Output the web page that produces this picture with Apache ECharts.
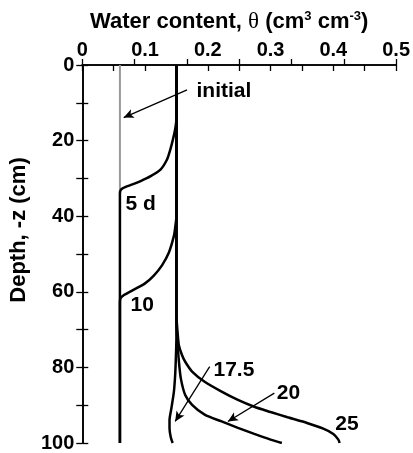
<!DOCTYPE html>
<html>
<head>
<meta charset="utf-8">
<script src="https://cdn.jsdelivr.net/npm/echarts@6/dist/echarts.min.js"></script>
<style>
html,body{margin:0;padding:0;background:#fff;}
#chart{width:413px;height:453px;}
</style>
</head>
<body>
<div id="chart"></div>
<script>
// Water content (cm3/cm3) vs depth (cm) profiles: [theta, depth]
const initialProfile = [[0.06, 0], [0.06, 100]];
const day5 = [[0.15,0],[0.15,14],[0.148,17],[0.144,20],[0.14,22.5],[0.135,25],[0.125,27.6],[0.109,29.4],[0.093,30.7],[0.08,31.6],[0.07,32.2],[0.062,32.9],[0.06,34],[0.06,100]];
const day10 = [[0.15,0],[0.15,40],[0.148,43],[0.146,45.2],[0.138,49.6],[0.127,53],[0.114,55.7],[0.099,57.9],[0.08,59.6],[0.067,60.8],[0.061,61.7],[0.06,63],[0.06,100]];
const day17_5 = [[0.15,0],[0.15,72],[0.149,78],[0.148,82],[0.146,86.4],[0.142,90.8],[0.139,94],[0.139,96],[0.141,98.5],[0.144,100]];
const day20 = [[0.15,0],[0.15,68],[0.152,74],[0.154,78.5],[0.157,82.9],[0.164,87.3],[0.175,89.9],[0.195,92.5],[0.222,94.3],[0.248,96],[0.274,97.6],[0.30,99.1],[0.318,100]];
const day25 = [[0.15,0],[0.15,66],[0.152,71],[0.154,74.2],[0.159,76.8],[0.164,78.5],[0.175,81.1],[0.195,83.8],[0.222,86.4],[0.248,88.6],[0.274,90.4],[0.30,91.8],[0.327,93.2],[0.358,94.7],[0.384,96.2],[0.40,97.6],[0.408,99.1],[0.41,100]];

// Annotation labels: [theta, depth, text]
const labelTexts = [[0.182, 7.0, 'initial'], [0.069, 36.8, '5 d'], [0.077, 63.6, '10'], [0.209, 80.7, '17.5'], [0.31, 86.8, '20'], [0.403, 94.9, '25']];
// Arrows: [fromTheta, fromDepth, toTheta, toDepth]
const arrows = [[0.167, 6.6, 0.066, 13.9], [0.203, 79.8, 0.148, 94.3], [0.306, 86.8, 0.232, 94.3]];

const xTicks = { min: 0, max: 0.5, interval: 0.1 };
const yTicks = { min: 0, max: 100, interval: 20 };

const FONT = '"Liberation Sans", Arial, sans-serif';
const chart = echarts.init(document.getElementById('chart'), null, { renderer: 'canvas' });

function profile(data, color, w) {
  return {
    type: 'line', data: data, xAxisIndex: 0, yAxisIndex: 0,
    showSymbol: false, smooth: 0.25, silent: true,
    lineStyle: { color: color, width: w }
  };
}

const axisLineStyle = { color: '#000', width: 1.6 };
const tickStyle = { color: '#000', width: 1.3 };

const option = {
  animation: false,
  backgroundColor: '#fff',
  grid: { left: 79, top: 65, right: 16, bottom: 8, containLabel: false },
  xAxis: [{
    type: 'value', position: 'top', min: xTicks.min, max: xTicks.max, interval: xTicks.interval,
    name: '{b|Water content, }{th|θ}{b| (cm}{sup|3}{b| cm}{sup|-3}{b|)}',
    nameLocation: 'middle', nameGap: 31,
    nameTextStyle: {
      padding: [0, 20, 0, 0],
      rich: {
        b: { fontFamily: FONT, fontWeight: 'bold', fontSize: 22, color: '#000' },
        th: { fontFamily: '"Liberation Serif", serif', fontWeight: 'normal', fontSize: 23, color: '#000' },
        sup: { fontFamily: FONT, fontWeight: 'bold', fontSize: 13, color: '#000', padding: [0, 0, 11, 0] }
      }
    },
    axisLine: { show: true, lineStyle: axisLineStyle },
    axisTick: { show: true, inside: true, length: 6, lineStyle: tickStyle },
    minorTick: { show: true, splitNumber: 2, length: 6, lineStyle: tickStyle },
    axisLabel: { fontFamily: FONT, fontWeight: 'bold', fontSize: 20, color: '#000', margin: 5 },
    splitLine: { show: false }
  }, {
    type: 'value', position: 'bottom', min: 0, max: 6, interval: 1,
    axisLine: { show: true, lineStyle: axisLineStyle },
    axisTick: { show: true, inside: true, length: 6, lineStyle: tickStyle },
    axisLabel: { show: false }, splitLine: { show: false }
  }],
  yAxis: [{
    type: 'value', inverse: true, min: yTicks.min, max: yTicks.max, interval: yTicks.interval,
    name: 'Depth, -z (cm)', nameLocation: 'middle', nameGap: 50, nameRotate: 90,
    nameTextStyle: { fontFamily: FONT, fontWeight: 'bold', fontSize: 22, color: '#000', padding: [0, 0, 0, 48] },
    axisLine: { show: true, lineStyle: axisLineStyle },
    axisTick: { show: true, inside: true, length: 6, lineStyle: tickStyle },
    minorTick: { show: true, splitNumber: 2, length: 6, lineStyle: tickStyle },
    axisLabel: { fontFamily: FONT, fontWeight: 'bold', fontSize: 20, color: '#000', margin: 8 },
    splitLine: { show: false }
  }, {
    type: 'value', inverse: true, position: 'right', min: 0, max: 100, interval: 10,
    axisLine: { show: true, lineStyle: axisLineStyle },
    axisTick: { show: true, inside: true, length: 6, lineStyle: tickStyle },
    axisLabel: { show: false }, splitLine: { show: false }
  }],
  series: [
    Object.assign(profile(initialProfile, '#999', 2), {
      markLine: {
        silent: true, symbol: ['none', 'arrow'], symbolSize: [7, 10],
        lineStyle: { color: '#000', width: 1.3, type: 'solid' },
        label: { show: false },
        data: arrows.map(a => [{ coord: [a[0], a[1]] }, { coord: [a[2], a[3]] }])
      }
    }),
    profile(day5, '#000', 2.5),
    profile(day10, '#000', 2.5),
    profile(day17_5, '#000', 2.5),
    profile(day20, '#000', 2.5),
    profile(day25, '#000', 2.5)
  ]
};
chart.setOption(option);

// Annotation texts placed through the chart's own axes
chart.setOption({
  graphic: labelTexts.map(t => {
    const p = chart.convertToPixel({ xAxisIndex: 0, yAxisIndex: 0 }, [t[0], t[1]]);
    return {
      type: 'text', x: p[0], y: p[1], silent: true, z: 100,
      style: {
        text: t[2], fill: '#000', fontFamily: FONT, fontWeight: 'bold', fontSize: 21,
        align: 'left', verticalAlign: 'middle'
      }
    };
  })
});
</script>
</body>
</html>
